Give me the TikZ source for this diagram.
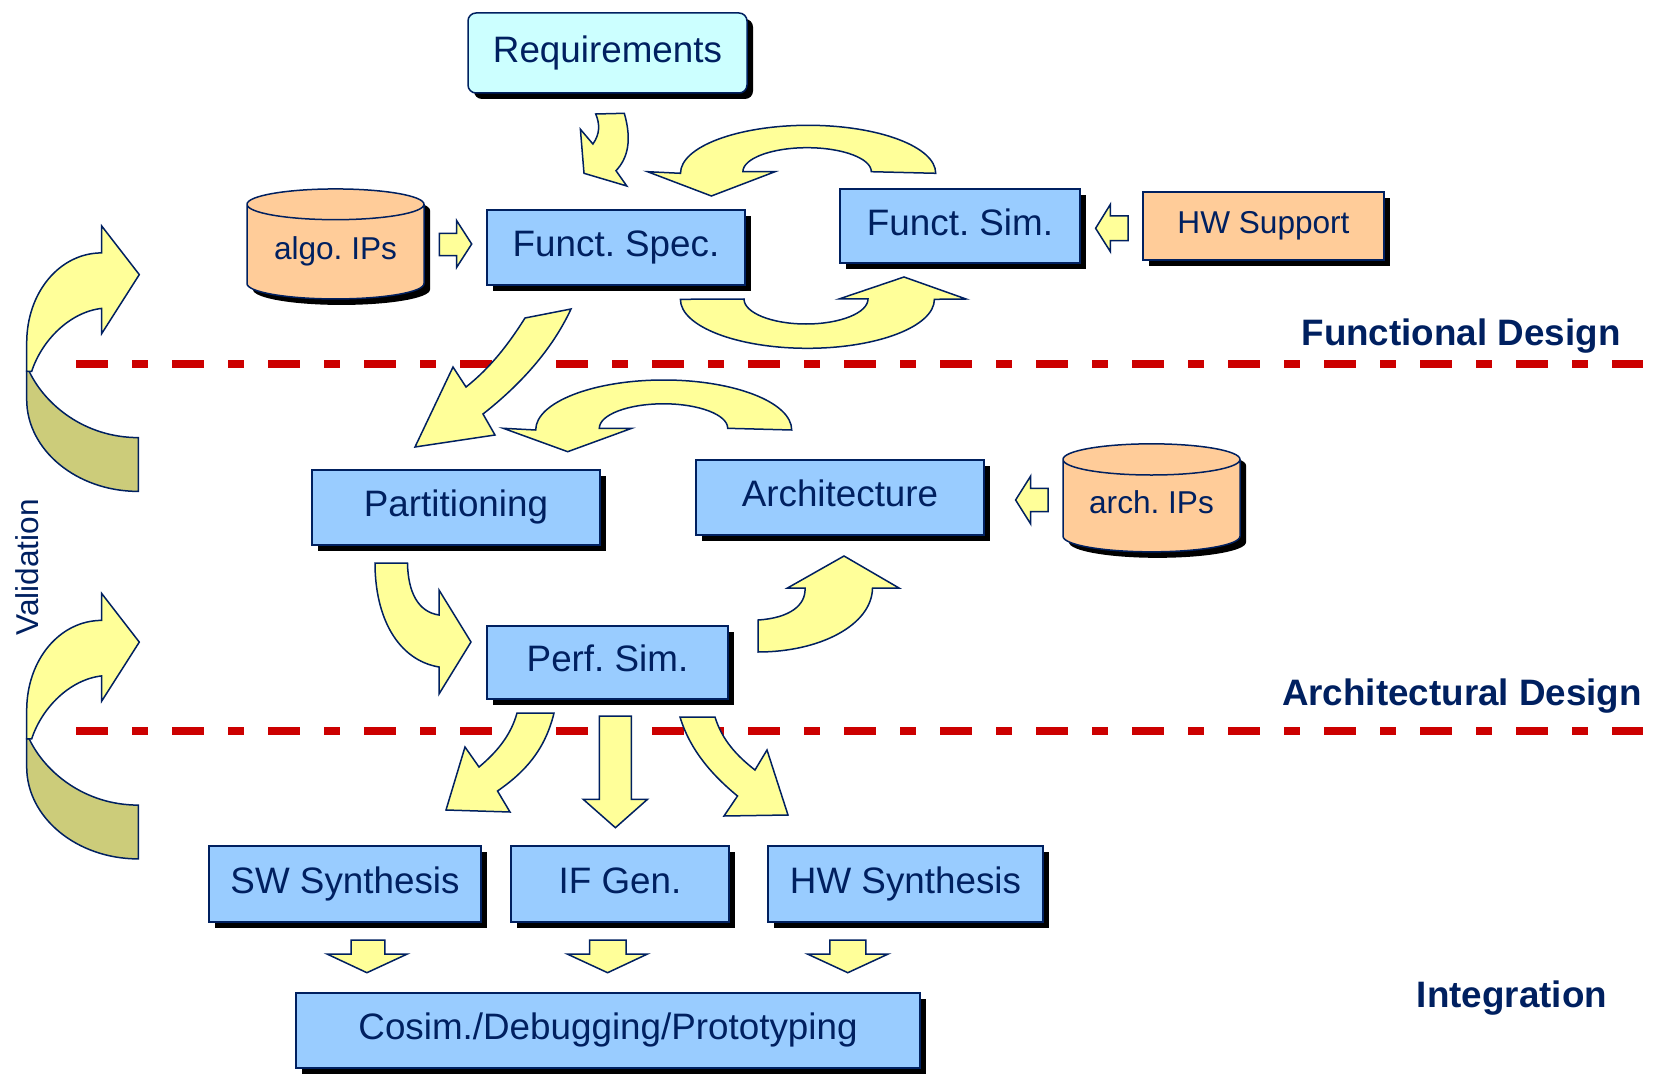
\documentclass[tikz,border=0pt]{standalone}
\usepackage{fontspec}
\setmainfont{Liberation Sans}
\frenchspacing
\usetikzlibrary{shapes.geometric,shadows}
\definecolor{navy}{RGB}{0,32,96}
\definecolor{boxblue}{RGB}{153,204,255}
\definecolor{reqcyan}{RGB}{204,255,255}
\definecolor{peach}{RGB}{255,204,153}
\definecolor{arrowyellow}{RGB}{255,255,153}
\definecolor{olive}{RGB}{204,204,122}
\definecolor{sepred}{RGB}{204,0,0}

\begin{document}
\begin{tikzpicture}[x=0.5pt, y=-0.5pt,
  every node/.style={font=\fontsize{18.4}{22}\selectfont, text=navy},
  box/.style={draw=navy, line width=0.75pt, fill=boxblue, inner sep=0pt,
    text height=13.2pt, text depth=3.9pt,
    drop shadow={shadow xshift=3pt, shadow yshift=-3pt, fill=black, opacity=1}},
  small/.style={font=\fontsize{15.8}{19}\selectfont, text height=11.3pt, text depth=3.4pt},
  db/.style={cylinder, shape border rotate=90, aspect=0.25, draw=navy, line width=0.75pt,
    fill=peach, inner sep=0pt,
    drop shadow={shadow xshift=3pt, shadow yshift=-3pt, fill=black, opacity=1}},
  blk/.style={draw=navy, line width=0.75pt, fill=arrowyellow},
  back/.style={draw=navy, line width=0.75pt, fill=olive},
  sep/.style={draw=sepred, line width=3.75pt, dash pattern=on 16pt off 12pt on 8pt off 12pt},
  lbl/.style={font=\bfseries\fontsize{18.4}{22}\selectfont, anchor=base}]
\useasboundingbox (0,0) rectangle (1654,1075);

\draw[sep] (76,364) -- (1643,364);
\draw[sep] (76,731) -- (1643,731);

\node[box, fill=reqcyan, rounded corners=4pt, minimum width=139.5pt, minimum height=40pt] (R) at (607.5,53) {Requirements};
\node[box, minimum width=129pt, minimum height=37.5pt] (FS) at (616,247.5) {Funct. Spec.};
\node[box, minimum width=120pt, minimum height=37pt] (FSim) at (960,226) {Funct. Sim.};
\node[box, small, fill=peach, minimum width=120.5pt, minimum height=34pt] (HW) at (1263.5,226) {HW Support};
\node[db, small, minimum width=88.5pt, minimum height=55pt] (AIP) at (335.5,252) {algo. IPs};
\node[box, minimum width=144pt, minimum height=37.5pt] (P) at (456,507.5) {Partitioning};
\node[box, minimum width=144pt, minimum height=37.5pt] (A) at (840,497.5) {Architecture};
\node[db, small, minimum width=88.5pt, minimum height=54pt] (ArIP) at (1151.5,506) {arch. IPs};
\node[box, minimum width=120.5pt, minimum height=36.5pt] (PS) at (607.5,662.5) {Perf. Sim.};
\node[box, minimum width=136pt, minimum height=38pt] (SW) at (345,884) {SW Synthesis};
\node[box, minimum width=109pt, minimum height=38pt] (IF) at (620,884) {IF Gen.};
\node[box, minimum width=137.5pt, minimum height=38pt] (HWS) at (905.5,884) {HW Synthesis};
\node[box, minimum width=312pt, minimum height=37.5pt] (C) at (608,1030.5) {Cosim./Debugging/Prototyping};

\node[lbl] (FD) at (1461,345) {Functional Design};
\node[lbl] (AD) at (1462,705) {Architectural Design};
\node[lbl] (I) at (1512,1007) {Integration};
\node[small, rotate=90] (V) at (31,567.5) {Validation};

\draw[blk] (595.7,114) -- (624.3,113.3) .. controls (632,140) and (628,158) .. (616,170.7) -- (626.8,186) -- (584,173.3) -- (580.4,129.3) -- (592.9,144) .. controls (600,134) and (600,124) .. (595.7,114) -- cycle;
\draw[blk] (935.7,173.3) arc[start angle=0, end angle=-180, x radius=127.6, y radius=48] -- (647.5,171.7) -- (711.4,196) -- (775,171.7) -- (742.9,171.7) arc[start angle=180, end angle=360, x radius=64.2, y radius=24] -- cycle;
\draw[blk] (680.4,299.3) arc[start angle=180, end angle=0, x radius=127, y radius=49] -- (966,299) -- (904,277) -- (839,299) -- (868,299) arc[start angle=0, end angle=180, x radius=62, y radius=25] -- cycle;
\draw[blk] (439.3,233.3) -- (456.7,233.3) -- (456.7,220.7) -- (471.7,244) -- (456.7,267.3) -- (456.7,255.7) -- (439.3,255.7) -- cycle;
\draw[blk] (1128.2,216) -- (1110.4,216) -- (1110.4,204.3) -- (1095.6,228.3) -- (1110.4,251.7) -- (1110.4,240.7) -- (1128.2,240.7) -- cycle;
\draw[blk] (525,318) -- (571,309) .. controls (552,350) and (520,385) .. (483,414) -- (495,435) -- (415,447) -- (453,367) -- (466,387) .. controls (490,368) and (508,345) .. (525,318) -- cycle;
\draw[blk] (791.7,430) arc[start angle=0, end angle=-180, x radius=128, y radius=50] -- (503.3,428.3) -- (567.7,451.7) -- (631.7,428.3) -- (599.3,428.3) arc[start angle=180, end angle=360, x radius=64.2, y radius=24.5] -- cycle;
\draw[blk] (1048,488.3) -- (1030.7,488.3) -- (1030.7,476) -- (1015.6,500) -- (1030.7,524) -- (1030.7,511.7) -- (1048,511.7) -- cycle;
\draw[blk] (375,563) -- (407.5,563) .. controls (408,592) and (418,612) .. (439,615) -- (439,590) -- (471,642) -- (439,694) -- (439,667) .. controls (398,660) and (375,618) .. (375,563) -- cycle;
\draw[blk] (758,620) .. controls (790,618) and (806,605) .. (805,588) -- (787.5,588) -- (844,556) -- (899,588) -- (872.5,588) .. controls (872,625) and (820,652) .. (758,652) -- cycle;
\draw[blk] (517,713) -- (554,713) .. controls (545,750) and (525,772) .. (497.5,791) -- (510,812) -- (446,810) -- (465,747) -- (479,767) .. controls (497,752) and (511,735) .. (517,713) -- cycle;
\draw[blk] (599.3,716) -- (631.4,716) -- (631.4,799.3) -- (647.5,799.3) -- (615.4,827.7) -- (583.2,799.3) -- (599.3,799.3) -- cycle;
\draw[blk] (680,717) -- (715,717) .. controls (722,740) and (737,756) .. (755,770) -- (767,750) -- (788,815) -- (724,816) -- (737.5,796) .. controls (712,775) and (690,750) .. (680,717) -- cycle;
\draw[blk] (351.2,940) -- (384.8,940) -- (384.8,954) -- (407.3,954) -- (366.9,972.7) -- (327,954) -- (351.2,954) -- cycle;
\draw[blk] (589.7,940) -- (626.1,940) -- (626.1,954) -- (647.5,954) -- (607.6,972.7) -- (567.2,954) -- (589.7,954) -- cycle;
\draw[blk] (829.8,940) -- (865.8,940) -- (865.8,954) -- (888.2,954) -- (847.8,972.7) -- (807.4,954) -- (829.8,954) -- cycle;

\draw[back] (29,371) -- (26.7,371) -- (26.7,399.5) .. controls (26.7,450) and (76.7,491.4) .. (138.3,491.4) -- (138.3,437.6) .. controls (85,437.6) and (45,405) .. (29,371) -- cycle;
\draw[blk] (101.7,252.9) -- (101.7,226) -- (139.3,274.6) -- (101.7,333.6) -- (101.7,308.4) .. controls (70,312) and (42,340) .. (31.7,371.3) -- (26.7,371.3) -- (26.7,343) .. controls (26.7,292) and (60,252.9) .. (101.7,252.9) -- cycle;
\begin{scope}[shift={(0,367.5)}]
\draw[back] (29,371) -- (26.7,371) -- (26.7,399.5) .. controls (26.7,450) and (76.7,491.4) .. (138.3,491.4) -- (138.3,437.6) .. controls (85,437.6) and (45,405) .. (29,371) -- cycle;
\draw[blk] (101.7,252.9) -- (101.7,226) -- (139.3,274.6) -- (101.7,333.6) -- (101.7,308.4) .. controls (70,312) and (42,340) .. (31.7,371.3) -- (26.7,371.3) -- (26.7,343) .. controls (26.7,292) and (60,252.9) .. (101.7,252.9) -- cycle;
\end{scope}
\end{tikzpicture}
\end{document}
